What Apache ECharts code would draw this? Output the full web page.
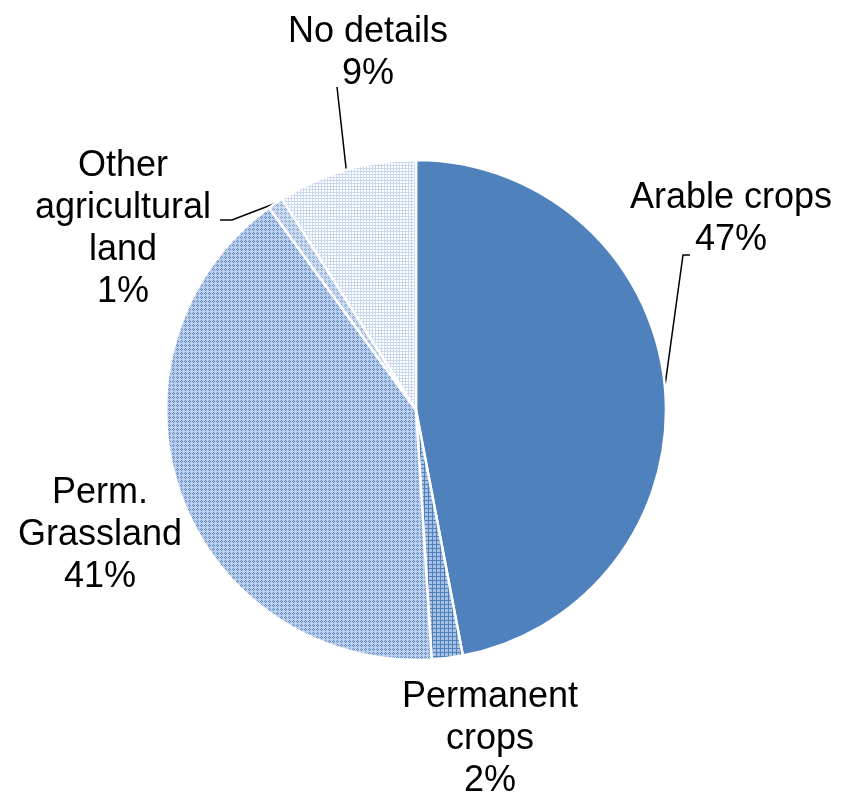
<!DOCTYPE html>
<html>
<head>
<meta charset="utf-8">
<script src="https://cdn.jsdelivr.net/npm/echarts@6/dist/echarts.min.js"></script>
<style>
html,body{margin:0;padding:0;background:#fff;}
#chart{width:842px;height:796px;}
</style>
</head>
<body>
<div id="chart"></div>
<script>
// ---- data ----
var categories = ['Arable crops', 'Permanent\ncrops', 'Perm.\nGrassland', 'Other\nagricultural\nland', 'No details'];
var shares = [47, 2, 41, 1, 9];

// ---- styles ----
function makePattern(size, base, dark, cells) {
  var c = document.createElement('canvas');
  c.width = size; c.height = size;
  var g = c.getContext('2d');
  g.fillStyle = base; g.fillRect(0, 0, size, size);
  g.fillStyle = dark;
  cells.forEach(function (p) { g.fillRect(p[0], p[1], 1, 1); });
  return { image: c, repeat: 'repeat' };
}
var gridCells4 = [[0,0],[1,0],[2,0],[3,0],[0,1],[0,2],[0,3]];
var diamondCells = [[1,0],[0,1],[2,1],[1,2]];
var gridCells3 = [[0,0],[1,0],[2,0],[0,1],[0,2]];
var fills = [
  '#4F81BD',
  makePattern(4, '#A9C1E5', '#4F81BD', gridCells4),
  makePattern(4, '#BDD0EB', '#5F88C6', diamondCells),
  makePattern(4, '#D0DDF1', '#7FA0D2', diamondCells),
  makePattern(3, '#FFFFFF', '#C9D8EE', gridCells3)
];
// label block centres and leader-line bend/end offsets relative to them
var labelCenters = [[731, 219], [490, 739], [100, 535], [123, 229], [368, 53]];
var lineBend = [[-48, 36], null, null, [109, -9], [-31, 34]];
var lineEnd  = [[-41, 36], null, null, [97, -9], [-31, 34]];

var chart = echarts.init(document.getElementById('chart'), null, { renderer: 'canvas' });
chart.setOption({
  animation: false,
  backgroundColor: '#ffffff',
  series: [{
    type: 'pie',
    center: [416, 410],
    radius: 250,
    startAngle: 90,
    clockwise: true,
    avoidLabelOverlap: false,
    itemStyle: { borderColor: '#ffffff', borderWidth: 2.5 },
    label: {
      show: true,
      formatter: function (p) { return p.name + '\n' + p.value + '%'; },
      fontFamily: 'Liberation Sans, Arial, sans-serif',
      fontSize: 36,
      lineHeight: 42,
      color: '#000000',
      align: 'center'
    },
    labelLine: {
      show: true,
      length: 20,
      length2: 8,
      smooth: false,
      lineStyle: { color: '#000000', width: 1.5 }
    },
    labelLayout: function (params) {
      var i = params.dataIndex;
      var c = labelCenters[i];
      var out = { x: c[0], y: c[1], align: 'center', verticalAlign: 'middle' };
      if (lineBend[i] && params.labelLinePoints) {
        var a = params.labelLinePoints[0];
        out.labelLinePoints = [
          [a[0], a[1]],
          [c[0] + lineBend[i][0], c[1] + lineBend[i][1]],
          [c[0] + lineEnd[i][0], c[1] + lineEnd[i][1]]
        ];
      }
      return out;
    },
    emphasis: { disabled: true },
    data: categories.map(function (name, i) {
      return {
        name: name,
        value: shares[i],
        itemStyle: { color: fills[i] },
        labelLine: { show: !!lineBend[i] }
      };
    })
  }]
});
</script>
</body>
</html>
